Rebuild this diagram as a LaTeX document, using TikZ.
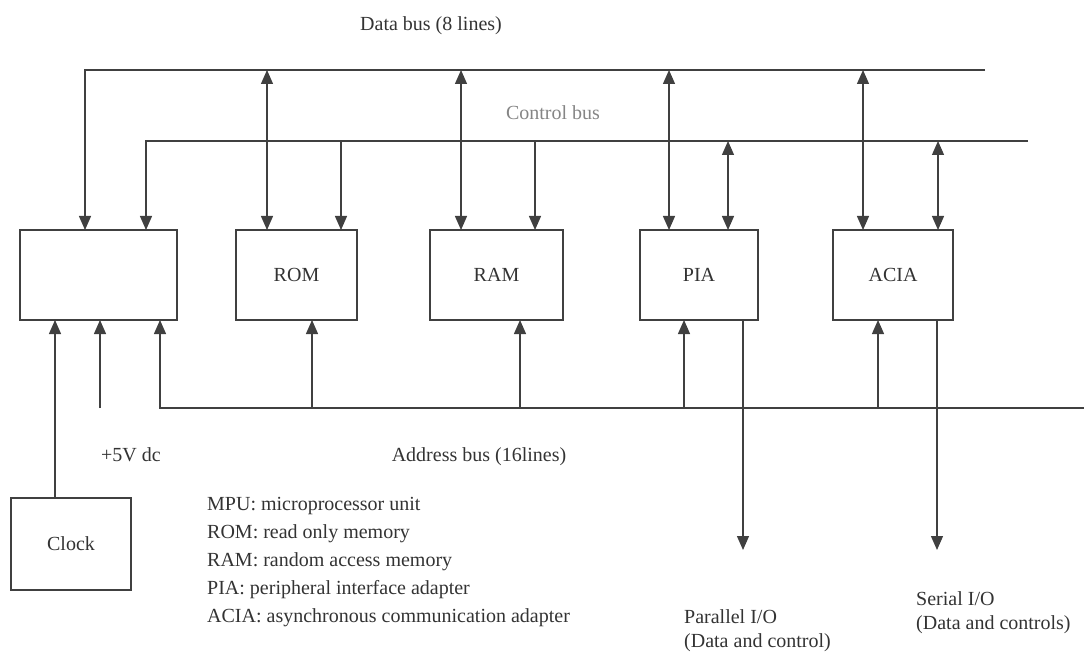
\documentclass[tikz,border=0pt]{standalone}
\usepackage{fontspec}
\setmainfont{Liberation Serif}
\usetikzlibrary{arrows.meta}
\definecolor{linec}{gray}{0.25}
\definecolor{textc}{gray}{0.2}
\begin{document}
\begin{tikzpicture}[x=1pt,y=-1pt,
  line/.style={draw=linec, line width=1.3pt},
  tipd/.style={-{Triangle[width=12pt,length=14pt]}},
  bi/.style={{Triangle[width=12pt,length=14pt]}-{Triangle[width=12pt,length=14pt]}},
  box/.style={draw=linec, line width=1.3pt, inner sep=0pt, outer sep=0pt, minimum height=90pt, font=\fontsize{20}{24}\selectfont, text=textc},
  lbl/.style={font=\fontsize{20}{24}\selectfont, text=textc, inner sep=0pt},
]
\useasboundingbox (0,0) rectangle (1084,655);

% boxes
\node[box, minimum width=157pt] (mpu) at (98.5,275) {};
\node[box, minimum width=121pt] (rom) at (296.5,275) {ROM};
\node[box, minimum width=133pt] (ram) at (496.5,275) {RAM};
\node[box, minimum width=118pt] (pia) at (699,275) {PIA};
\node[box, minimum width=120pt] (acia) at (893,275) {ACIA};
\node[box, minimum width=120pt, minimum height=92pt] (clock) at (71,544) {Clock};

% bus coordinates
\coordinate (db0) at (85,70);   \coordinate (db1) at (985,70);
\coordinate (cb0) at (146,141); \coordinate (cb1) at (1028,141);
\coordinate (ab0) at (160,408); \coordinate (ab1) at (1084,408);

% data bus + MPU data
\draw[line,tipd] (db1) -- (db0) -- (db0 |- mpu.north);
% control bus + MPU control
\draw[line,tipd] (cb1) -- (cb0) -- (cb0 |- mpu.north);
% address bus + MPU address
\draw[line,tipd] (ab1) -- (ab0) -- (ab0 |- mpu.south);

% data connections
\coordinate (romD) at (267,70);  \draw[line,bi] (romD) -- (romD |- rom.north);
\coordinate (ramD) at (461,70);  \draw[line,bi] (ramD) -- (ramD |- ram.north);
\coordinate (piaD) at (669,70);  \draw[line,bi] (piaD) -- (piaD |- pia.north);
\coordinate (aciaD) at (863,70); \draw[line,bi] (aciaD) -- (aciaD |- acia.north);

% control connections
\coordinate (romC) at (341,141);  \draw[line,tipd] (romC) -- (romC |- rom.north);
\coordinate (ramC) at (535,141);  \draw[line,tipd] (ramC) -- (ramC |- ram.north);
\coordinate (piaC) at (728,141);  \draw[line,bi] (piaC) -- (piaC |- pia.north);
\coordinate (aciaC) at (938,141); \draw[line,bi] (aciaC) -- (aciaC |- acia.north);

% address connections
\coordinate (romA) at (312,408);  \draw[line,tipd] (romA) -- (romA |- rom.south);
\coordinate (ramA) at (520,408);  \draw[line,tipd] (ramA) -- (ramA |- ram.south);
\coordinate (piaA) at (684,408);  \draw[line,tipd] (piaA) -- (piaA |- pia.south);
\coordinate (aciaA) at (878,408); \draw[line,tipd] (aciaA) -- (aciaA |- acia.south);

% power and clock
\coordinate (pwr) at (100,408); \draw[line,tipd] (pwr) -- (pwr |- mpu.south);
\coordinate (clk) at (55,498);  \draw[line,tipd] (clock.north -| clk) -- (clk |- mpu.south);

% I/O outputs
\coordinate (pout) at (743,550);  \draw[line,tipd] (pout |- pia.south) -- (pout);
\coordinate (sout) at (937,550);  \draw[line,tipd] (sout |- acia.south) -- (sout);

% labels
\node[lbl] (dbl) at (431,26) {Data bus (8 lines)};
\node[lbl, text=textc!60] (cbl) at (553,113) {Control bus};
\node[lbl, anchor=west] (pwrl) at (101,455) {+5V dc};
\node[lbl] (abl) at (479,457) {Address bus (16lines)};
\node[lbl, anchor=north west, align=left, font=\fontsize{20}{28}\selectfont] (legend) at (207,497)
  {MPU: microprocessor unit\\ROM: read only memory\\RAM: random access memory\\PIA: peripheral interface adapter\\ACIA: asynchronous communication adapter};
\node[lbl, anchor=north west, align=left, font=\fontsize{20}{24}\selectfont] (pio) at (684,609)
  {Parallel I/O\\(Data and control)};
\node[lbl, anchor=north west, align=left, font=\fontsize{20}{24}\selectfont] (sio) at (916,591)
  {Serial I/O\\(Data and controls)};
\end{tikzpicture}
\end{document}
